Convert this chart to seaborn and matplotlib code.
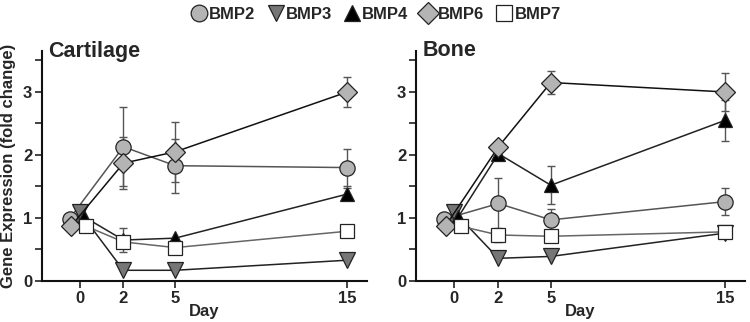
import numpy as np
import pandas as pd
import matplotlib
matplotlib.use("Agg")
import matplotlib.pyplot as plt
import seaborn as sns
from matplotlib.lines import Line2D

sns.set_theme(style="ticks")
plt.rcParams['font.family'] = ['Liberation Sans', 'DejaVu Sans']
plt.rcParams['font.weight'] = 'bold'

days = [0, 2, 5, 15]
genes = ["BMP2", "BMP3", "BMP4", "BMP6", "BMP7"]

# Cartilage means
cart_bmp2 = [0.99, 2.13, 1.83, 1.80]
cart_bmp3 = [1.10, 0.17, 0.17, 0.33]
cart_bmp4 = [1.02, 0.65, 0.68, 1.38]
cart_bmp6 = [0.88, 1.87, 2.05, 3.00]
cart_bmp7 = [0.87, 0.62, 0.53, 0.79]
# Cartilage error (symmetric half-width), 0 = none drawn
cart_err2 = [0.0, 0.63, 0.43, 0.29]
cart_err3 = [0.0, 0.0, 0.0, 0.0]
cart_err4 = [0.0, 0.19, 0.0, 0.10]
cart_err6 = [0.0, 0.41, 0.48, 0.24]
cart_err7 = [0.0, 0.0, 0.0, 0.0]

# Bone means
bone_bmp2 = [0.98, 1.23, 0.97, 1.26]
bone_bmp3 = [1.10, 0.36, 0.39, 0.76]
bone_bmp4 = [1.02, 2.02, 1.52, 2.55]
bone_bmp6 = [0.88, 2.13, 3.15, 3.00]
bone_bmp7 = [0.87, 0.73, 0.71, 0.78]
bone_err2 = [0.0, 0.40, 0.18, 0.22]
bone_err3 = [0.0, 0.0, 0.0, 0.0]
bone_err4 = [0.0, 0.0, 0.30, 0.33]
bone_err6 = [0.0, 0.0, 0.19, 0.30]
bone_err7 = [0.0, 0.11, 0.0, 0.0]

panels = {
    "Cartilage": ([cart_bmp2, cart_bmp3, cart_bmp4, cart_bmp6, cart_bmp7],
                  [cart_err2, cart_err3, cart_err4, cart_err6, cart_err7]),
    "Bone": ([bone_bmp2, bone_bmp3, bone_bmp4, bone_bmp6, bone_bmp7],
             [bone_err2, bone_err3, bone_err4, bone_err6, bone_err7]),
}

styles = {
    "BMP2": dict(marker="o", face="#b4b4b4", line="#555555"),
    "BMP3": dict(marker="v", face="#767676", line="#222222"),
    "BMP4": dict(marker="^", face="#000000", line="#222222"),
    "BMP6": dict(marker="D", face="#b4b4b4", line="#111111"),
    "BMP7": dict(marker="s", face="#ffffff", line="#666666"),
}
day0_shift = {"BMP2": -0.55, "BMP3": 0.0, "BMP4": 0.2, "BMP6": -0.45, "BMP7": 0.3}
msize = {"o": 11, "v": 11, "^": 10, "D": 10, "s": 10}

# the original day axis is slightly stretched at the early days
axis_src = [-5, 0, 2, 5, 15, 20]
axis_dst = [-5, 0, 2.46, 5.36, 15, 20]
fwd = lambda v: np.interp(v, axis_src, axis_dst)
inv = lambda v: np.interp(v, axis_dst, axis_src)

fig = plt.figure(figsize=(7.5, 3.22), dpi=100)
ax1 = fig.add_axes([42/750, 1-281/322, 325/750, 230/322])
ax2 = fig.add_axes([416/750, 1-281/322, 329/750, 230/322])

for ax, (title, (means, errs)) in zip([ax1, ax2], panels.items()):
    ax.set_xscale("function", functions=(fwd, inv))
    rows = []
    for g, m, e in zip(genes, means, errs):
        for d, v, ee in zip(days, m, e):
            rows.append(dict(gene=g, day=d, x=d + (day0_shift[g] if d == 0 else 0), val=v, err=ee))
    df = pd.DataFrame(rows)
    for g in genes:
        sub = df[df.gene == g]
        st = styles[g]
        se = sub[sub.err > 0]
        ax.errorbar(se.x, se.val, yerr=se.err, fmt="none", ecolor="#555555",
                    elinewidth=1.0, capsize=3, capthick=1.0, zorder=1)
        sns.lineplot(data=sub, x="x", y="val", ax=ax, color=st["line"], lw=1.1,
                     marker=st["marker"], markersize=msize[st["marker"]],
                     markerfacecolor=st["face"], markeredgecolor="#222222",
                     markeredgewidth=0.9, sort=False, legend=False, zorder=2)
    ax.set_xlim(-2.1, 16.1)
    ax.set_ylim(0, 3.65)
    ax.set_xticks(days)
    ax.set_xticks([], minor=True)
    ax.set_xticklabels([str(d) for d in days], fontsize=12, fontweight="bold")
    ax.set_yticks(np.arange(0, 3.51, 0.5))
    ax.set_yticklabels(["0", "", "1", "", "2", "", "3", ""], fontsize=12, fontweight="bold")
    ax.tick_params(axis="both", direction="out", length=5, width=1.2, color="#222222", pad=2)
    for s in ["top", "right"]:
        ax.spines[s].set_visible(False)
    for s in ["left", "bottom"]:
        ax.spines[s].set_linewidth(1.5)
        ax.spines[s].set_color("#111111")
    ax.set_xlabel("Day", fontsize=12, fontweight="bold", labelpad=-1)
    ax.set_ylabel("")
    ax.text(0.02, 1.0, title, transform=ax.transAxes, fontsize=15.5, fontweight="bold",
            va="center", ha="left")

ax1.set_ylabel("Gene Expression (fold change)", fontsize=12, fontweight="bold", labelpad=5)

handles = [Line2D([], [], ls="none", marker=styles[g]["marker"], markersize=msize[styles[g]["marker"]] + 1,
                  markerfacecolor=styles[g]["face"], markeredgecolor="#222222", markeredgewidth=0.9)
           for g in genes]
fig.legend(handles, genes, loc="upper center", bbox_to_anchor=(0.5, 1.025), ncol=5, frameon=False,
           prop=dict(weight="bold", size=12), handletextpad=0.0, columnspacing=0.6, handlelength=1.2)

fig.savefig("out.png", dpi=100)
